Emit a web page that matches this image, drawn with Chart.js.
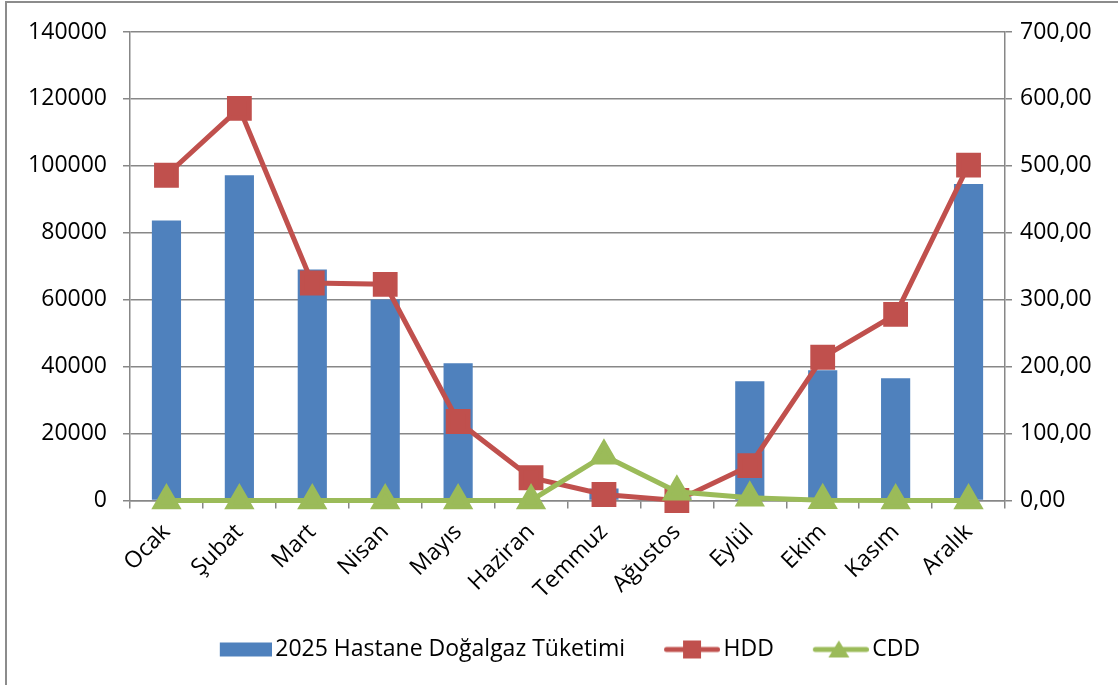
<!DOCTYPE html>
<html>
<head>
<meta charset="utf-8">
<script src="https://cdn.jsdelivr.net/npm/chart.js@4/dist/chart.umd.min.js"></script>
<style>
  html, body { margin: 0; padding: 0; background: #fff; }
  #kutu { position: relative; width: 1118px; height: 685px; }
  #cerceve { position: absolute; left: 5px; top: 1px; right: 0; bottom: 0;
             border-top: 2px solid #8c8c8c; border-left: 2px solid #8c8c8c; pointer-events: none; }
</style>
</head>
<body>
<div id="kutu">
  <canvas id="grafik" width="1118" height="685"></canvas>
  <div id="cerceve"></div>
</div>
<script>
// Veriler
const aylar = ['Ocak', 'Şubat', 'Mart', 'Nisan', 'Mayıs', 'Haziran', 'Temmuz', 'Ağustos', 'Eylül', 'Ekim', 'Kasım', 'Aralık'];
const tuketim = [83700, 97200, 69000, 60100, 41000, 0, 3600, 1000, 35600, 38900, 36500, 94600];
const hdd = [486, 586, 325, 323, 118, 34, 9, 0, 52, 214, 278, 501];
const cdd = [0, 0, 0, 0, 0, 0, 67, 13, 4, 0.3, 0, 0];

const mavi = '#4F81BD';
const kirmizi = '#C0504D';
const yesil = '#9BBB59';
const gri = '#878787';
const yazi = "'Open Sans', sans-serif";

// Lejant simgeleri (çizgi + işaret)
function simge(tur, renk) {
  const c = document.createElement('canvas');
  c.width = 72; c.height = 24;
  const g = c.getContext('2d');
  g.fillStyle = renk;
  if (tur === 'bar') {
    g.fillRect(20, 5, 52, 14);
    return c;
  }
  g.strokeStyle = renk; g.lineWidth = 5; g.lineCap = 'round';
  g.beginPath(); g.moveTo(18.5, 12); g.lineTo(69.5, 12); g.stroke();
  if (tur === 'kare') {
    g.fillRect(35, 3, 18, 18);
  } else {
    g.beginPath(); g.moveTo(42, 3); g.lineTo(52.5, 20); g.lineTo(31.5, 20); g.closePath(); g.fill();
  }
  return c;
}
const simgeler = [simge('bar', mavi), simge('kare', kirmizi), simge('ucgen', yesil)];

new Chart(document.getElementById('grafik'), {
  data: {
    labels: aylar,
    datasets: [
      { type: 'bar', label: '2025 Hastane Doğalgaz Tüketimi', data: tuketim, backgroundColor: mavi,
        yAxisID: 'y', order: 3, barPercentage: 0.5, categoryPercentage: 0.8 },
      { type: 'line', label: 'HDD', data: hdd, borderColor: kirmizi, backgroundColor: kirmizi,
        borderWidth: 5, pointStyle: 'rect', pointRadius: 14, pointHoverRadius: 14, tension: 0,
        yAxisID: 'y1', order: 2, clip: false },
      { type: 'line', label: 'CDD', data: cdd, borderColor: yesil, backgroundColor: yesil,
        borderWidth: 5, pointStyle: 'triangle', pointRadius: 12.5, pointHoverRadius: 12.5, tension: 0,
        yAxisID: 'y1', order: 1, clip: false }
    ]
  },
  options: {
    responsive: false,
    animation: false,
    layout: { padding: { top: 32, left: 10, right: 0, bottom: 14 } },
    plugins: {
      tooltip: { enabled: false },
      legend: {
        position: 'bottom',
        labels: {
          usePointStyle: true,
          pointStyleWidth: 56,
          boxHeight: 23,
          padding: 31,
          color: '#000',
          font: { family: yazi, size: 23 },
          sort: (a, b) => a.datasetIndex - b.datasetIndex,
          generateLabels: function(chart) {
            return chart.data.datasets.map((ds, i) => ({
              text: ds.label,
              pointStyle: simgeler[i],
              datasetIndex: i,
              fillStyle: ds.backgroundColor,
              strokeStyle: 'transparent',
              lineWidth: 0,
              hidden: false,
              fontColor: '#000'
            }));
          }
        }
      }
    },
    scales: {
      x: {
        grid: { offset: true, drawOnChartArea: false, drawTicks: true, tickLength: 8, color: gri, lineWidth: 1.5 },
        border: { color: gri, width: 1.5 },
        ticks: { color: '#000', font: { family: yazi, size: 23 }, minRotation: 45, maxRotation: 45, padding: 10 },
        afterFit: function(s) { s.height = 106.5; }
      },
      y: {
        position: 'left',
        min: 0, max: 140000,
        grid: { color: gri, lineWidth: 1.5, tickLength: 7 },
        border: { color: gri, width: 1.5 },
        ticks: { stepSize: 20000, color: '#000', font: { family: yazi, size: 23 }, padding: 16,
                 callback: v => String(v) },
        afterFit: function(s) { s.width = 120; }
      },
      y1: {
        position: 'right',
        min: 0, max: 700,
        grid: { drawOnChartArea: false, color: gri, lineWidth: 1.5, tickLength: 7 },
        border: { color: gri, width: 1.5 },
        ticks: { stepSize: 100, color: '#000', font: { family: yazi, size: 23 }, padding: 8,
                 callback: v => v.toFixed(2).replace('.', ',') },
        afterFit: function(s) { s.width = 113; }
      }
    }
  }
});
</script>
</body>
</html>
